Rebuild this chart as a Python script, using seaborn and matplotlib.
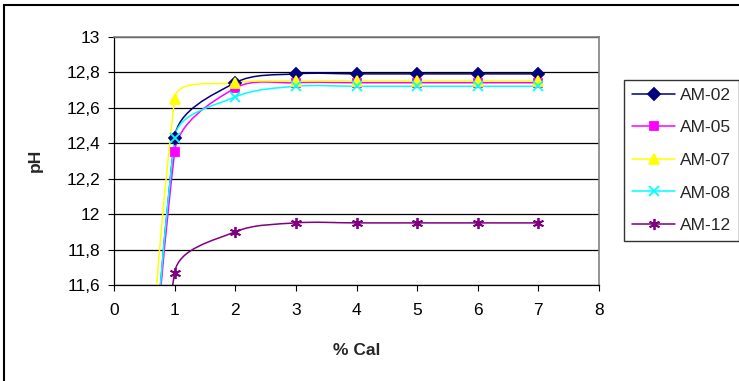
import numpy as np
import pandas as pd
import matplotlib
matplotlib.use("Agg")
import matplotlib.pyplot as plt
import seaborn as sns
from matplotlib.path import Path
from matplotlib.patches import PathPatch, Rectangle
from matplotlib.lines import Line2D

# data
cal = [0, 1, 2, 3, 4, 5, 6, 7]
am02 = [6.5, 12.43, 12.74, 12.79, 12.79, 12.79, 12.79, 12.79]
am05 = [6.8, 12.35, 12.71, 12.74, 12.74, 12.74, 12.74, 12.74]
am07 = [6.8, 12.65, 12.74, 12.75, 12.75, 12.75, 12.75, 12.75]
am08 = [6.5, 12.43, 12.66, 12.72, 12.72, 12.72, 12.72, 12.72]
am12 = [7.5, 11.67, 11.90, 11.95, 11.95, 11.95, 11.95, 11.95]

names = ["AM-02", "AM-05", "AM-07", "AM-08", "AM-12"]
series = [am02, am05, am07, am08, am12]
colors = ["#000080", "#FF00FF", "#FFFF00", "#00FFFF", "#800080"]
markers = ["D", "s", "^", "x", (6, 2, 0)]
msizes = [6, 6, 7, 7, 8]

df = pd.DataFrame({"cal": cal * len(names),
                   "ph": np.concatenate(series),
                   "sample": np.repeat(names, len(cal))})


def smooth_path(x, y, sx=60.6, sy=177.0, k=1/3):
    # excel-like smoothed line as cubic bezier segments (control points only)
    p = np.column_stack([np.asarray(x) * sx, np.asarray(y) * sy])
    n = len(p)
    d = np.zeros_like(p)
    for i in range(n):
        a = p[max(i - 1, 0)]
        b = p[min(i + 1, n - 1)]
        v = b - a
        d[i] = v / np.hypot(*v)
    verts = [p[0]]
    codes = [Path.MOVETO]
    for i in range(n - 1):
        L = np.hypot(*(p[i + 1] - p[i]))
        verts += [p[i] + d[i] * L * k, p[i + 1] - d[i + 1] * L * k, p[i + 1]]
        codes += [Path.CURVE4] * 3
    verts = np.array(verts) / [sx, sy]
    return Path(verts, codes)


sns.set_style("white")
plt.rcParams["font.family"] = ["Liberation Sans", "DejaVu Sans"]

fig = plt.figure(figsize=(7.39, 3.81), dpi=100)
ax = fig.add_axes([114 / 739, 1 - 285 / 381, 485 / 739, (285 - 36.6) / 381])

for name, c in zip(names, colors):
    sub = df[df["sample"] == name]
    ax.add_patch(PathPatch(smooth_path(sub["cal"], sub["ph"]), fill=False,
                           edgecolor=c, lw=1.1, zorder=2))

for name, c, m, ms in zip(names, colors, markers, msizes):
    sub = df[df["sample"] == name]
    sns.lineplot(data=sub, x="cal", y="ph", ax=ax, color=c, marker=m,
                 markersize=ms, linestyle="", markeredgecolor=c,
                 markeredgewidth=1.3, zorder=3, legend=False)

ax.set_xlim(0, 8)
ax.set_ylim(11.6, 13)
ax.set_xticks(range(0, 9))
yt = np.round(np.arange(11.6, 13.01, 0.2), 1)
ax.set_yticks(yt)
ax.set_yticklabels([f"{v:g}".replace(".", ",") for v in yt])
ax.yaxis.grid(True, color="black", lw=0.9)
ax.xaxis.grid(False)
ax.tick_params(axis="both", direction="out", length=4, width=0.8,
               labelsize=12.5, colors="black", left=True, bottom=True)
ax.tick_params(axis="x", pad=9)
ax.tick_params(axis="y", pad=6)
for s in ["left", "bottom"]:
    ax.spines[s].set_color("black")
    ax.spines[s].set_linewidth(0.9)
for s in ["top", "right"]:
    ax.spines[s].set_color("#808080")
    ax.spines[s].set_linewidth(1.2)
ax.set_xlabel("% Cal", fontsize=12.5, fontweight="bold", labelpad=18)
ax.set_ylabel("pH", fontsize=12.5, fontweight="bold", labelpad=17)

handles = [Line2D([], [], color=c, marker=m, markersize=ms, lw=1.1,
                  markeredgecolor=c, markeredgewidth=1.3)
           for c, m, ms in zip(colors, markers, msizes)]
leg = fig.legend(handles, names, loc="upper left",
                 bbox_to_anchor=(624 / 739, 1 - 80 / 381),
                 bbox_transform=fig.transFigure, fontsize=12.5,
                 frameon=True, fancybox=False, edgecolor="black",
                 handlelength=2.5, handletextpad=0.3, labelspacing=1.0,
                 borderpad=0.45, borderaxespad=0)
leg.get_frame().set_linewidth(1.0)

fig.patches.append(Rectangle((3.5 / 739, -0.2), 1.2, 1.2 - 4.5 / 381,
                             transform=fig.transFigure, fill=False,
                             edgecolor="black", lw=1.5, clip_on=False))

fig.savefig("out.png", dpi=100)
